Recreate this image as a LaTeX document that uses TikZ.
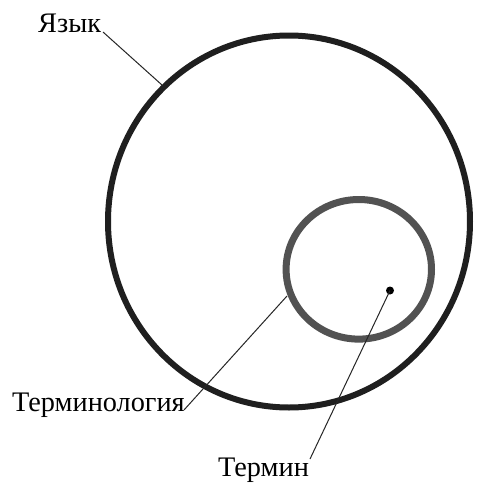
\documentclass[tikz,border=0pt]{standalone}
\usepackage{fontspec}
\setmainfont{Liberation Serif}
\begin{document}
\begin{tikzpicture}[x=1pt,y=-1pt,
  lbl/.style={inner sep=0pt,anchor=base west,font=\fontsize{28.3}{32}\selectfont},
  leader/.style={draw=black!85,line width=1pt}]
\useasboundingbox (0,0) rectangle (478,483);
\fill[white] (0,0) rectangle (478,483);
% big circle
\draw[line width=6pt,draw=black!88] (289,221.5) ellipse [x radius=181,y radius=186];
% small circle
\draw[line width=7pt,draw=black!68] (358.8,269.3) ellipse [x radius=72.7,y radius=69.8];
% dot
\fill (390,290.5) circle (4);
\coordinate (dot) at (390,290.5);
\coordinate (bigedge) at (162,85);
\coordinate (smalledge) at (287,296);
% labels
\node[lbl] (yazyk) at (38,32) {Язык};
\node[lbl] (term) at (12,411.5) {Терминология};
\node[lbl] (termin) at (218,476.5) {Термин};
\coordinate (yazykend) at (103,32);
\coordinate (termend) at (184,410);
\coordinate (terminend) at (310,459);
% leaders
\draw[leader] (yazykend) -- (bigedge);
\draw[leader] (termend) -- (smalledge);
\draw[leader] (terminend) -- (dot);
\end{tikzpicture}
\end{document}
